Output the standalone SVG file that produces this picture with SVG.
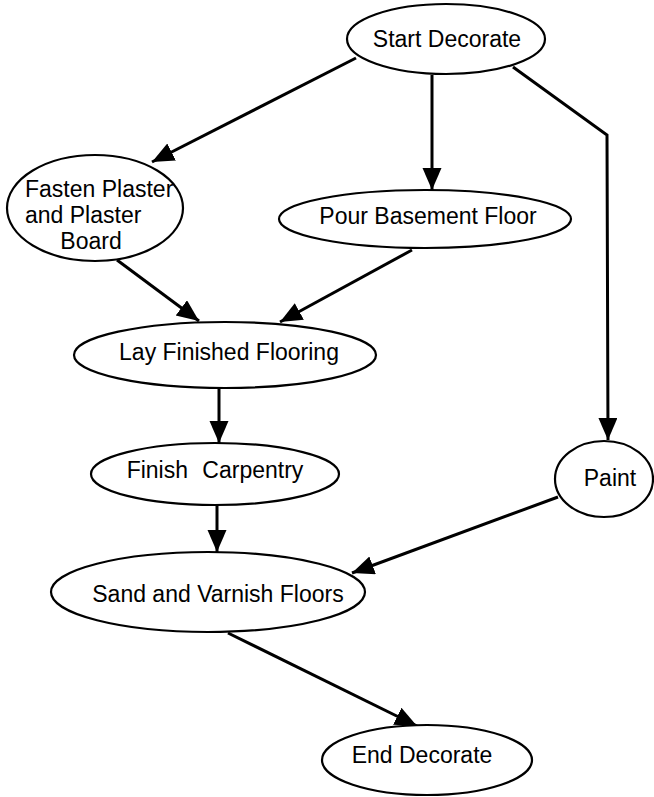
<svg xmlns="http://www.w3.org/2000/svg" width="654" height="797" viewBox="0 0 654 797">
<defs>
<style>
.node ellipse{fill:#fff;stroke:#000;stroke-width:2.2}
.node text{font-family:"Liberation Sans",Arial,sans-serif;font-size:23px;fill:#000}
.mid{text-anchor:middle}
#connectors path{fill:none;stroke:#000;stroke-width:3;marker-end:url(#arrow)}
</style>
<marker id="arrow" markerUnits="userSpaceOnUse" markerWidth="24" markerHeight="20" refX="22" refY="9.5" orient="auto">
<path d="M0,0 L22,9.5 L0,19 z" fill="#000"/>
</marker>
</defs>
<rect width="654" height="797" fill="#fff"/>
<g id="connectors">
<path d="M356,58 L152,162"/>
<path d="M432,75 L432,190"/>
<path d="M513,67 L607,135 L608,440"/>
<path d="M117,260 L199,321"/>
<path d="M412,250 L280,322"/>
<path d="M219,388 L219,443"/>
<path d="M558,497 L352,573"/>
<path d="M217,505 L217,552"/>
<path d="M228,633 L417,726"/>
</g>
<g id="start" class="node"><ellipse cx="446" cy="39" rx="99" ry="35"/><text class="mid" x="447" y="47">Start Decorate</text></g>
<g id="fasten" class="node"><ellipse cx="95" cy="208" rx="88" ry="53"/><text x="25" y="197">Fasten Plaster</text><text x="25" y="223">and Plaster</text><text class="mid" x="91" y="249">Board</text></g>
<g id="pour" class="node"><ellipse cx="425" cy="219" rx="146" ry="29"/><text class="mid" x="428" y="224">Pour Basement Floor</text></g>
<g id="lay" class="node"><ellipse cx="225" cy="355" rx="151" ry="33"/><text class="mid" x="229" y="360">Lay Finished Flooring</text></g>
<g id="finish" class="node"><ellipse cx="215" cy="474" rx="124" ry="31"/><text class="mid" x="215" y="478" word-spacing="8">Finish Carpentry</text></g>
<g id="paint" class="node"><ellipse cx="604" cy="479" rx="49" ry="38"/><text class="mid" x="610" y="486">Paint</text></g>
<g id="sand" class="node"><ellipse cx="208" cy="592" rx="157" ry="40"/><text class="mid" x="218" y="602">Sand and Varnish Floors</text></g>
<g id="end" class="node"><ellipse cx="427" cy="760" rx="105" ry="35"/><text class="mid" x="422" y="763">End Decorate</text></g>
</svg>
